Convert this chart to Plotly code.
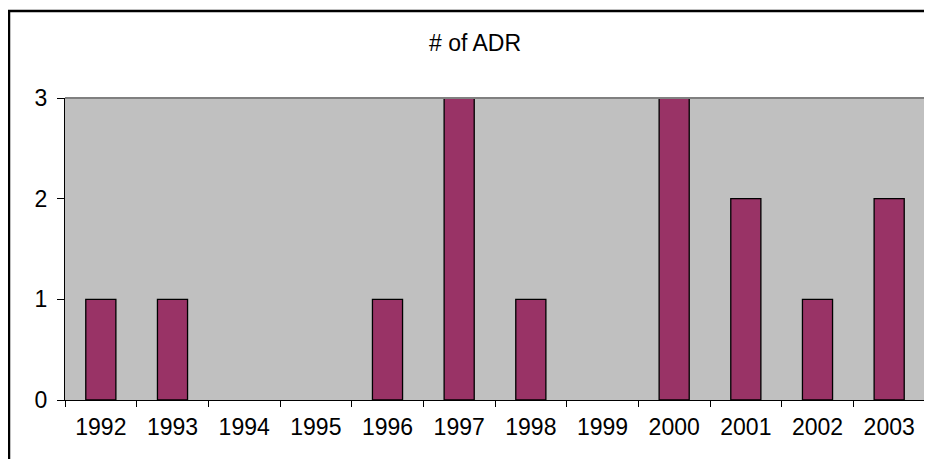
import plotly.graph_objects as go

years = ["1992", "1993", "1994", "1995", "1996", "1997", "1998", "1999", "2000", "2001", "2002", "2003"]
adr_counts = [1, 1, 0, 0, 1, 3, 1, 0, 3, 2, 1, 2]
y_ticks = [0, 1, 2, 3]

# page body has an 8px margin; figure occupies the rest of the window
OFF = 8
W, H = 932 - OFF, 459 - OFF
L, R, T = 65 - OFF, 932 - 925, 98 - OFF
B = H - (400 - OFF)
pw = W - L - R
ph = H - T - B

def px_x(p):
    return (p - OFF - L) / pw

def px_y(p):
    return (H - B - (p - OFF)) / ph

fig = go.Figure(go.Bar(
    x=years, y=adr_counts,
    marker=dict(color="#993366",
                line=dict(color="black", width=[1.3 if v > 0 else 0 for v in adr_counts])),
    width=0.42,
))

font = dict(family="Liberation Sans, Arial, sans-serif", size=23, color="black")

fig.update_layout(
    width=W, height=H,
    margin=dict(l=L, r=R, t=T, b=B),
    paper_bgcolor="white",
    plot_bgcolor="#C0C0C0",
    showlegend=False,
    font=font,
    title=dict(text="# of ADR", x=(475 - OFF) / W, xref="container", xanchor="center",
               y=1 - (43 - OFF) / H, yref="container", yanchor="middle",
               font=font),
    xaxis=dict(type="category", tickson="boundaries", ticks="outside", ticklen=6,
               tickcolor="black", showline=True, linecolor="black", linewidth=1,
               showgrid=False, ticklabelstandoff=6, tickfont=font),
    yaxis=dict(range=[0, 3], tickvals=y_ticks, ticks="outside", ticklen=7,
               tickcolor="black", showline=True, linecolor="black", linewidth=1,
               showgrid=False, zeroline=False, ticklabelstandoff=5, tickfont=font),
    shapes=[
        dict(type="line", xref="paper", yref="paper", x0=0, x1=1, y0=1, y1=1,
             line=dict(color="#808080", width=2), layer="above"),
        dict(type="line", xref="paper", yref="paper", x0=1, x1=1, y0=0, y1=1,
             line=dict(color="#808080", width=2), layer="above"),
        dict(type="line", xref="paper", yref="paper",
             x0=px_x(9), x1=px_x(9), y0=px_y(470), y1=px_y(11),
             line=dict(color="black", width=2.5), layer="below"),
        dict(type="line", xref="paper", yref="paper",
             x0=px_x(8), x1=px_x(931), y0=px_y(11), y1=px_y(11),
             line=dict(color="black", width=2.5), layer="below"),
    ],
)

fig.write_html("out.html")
